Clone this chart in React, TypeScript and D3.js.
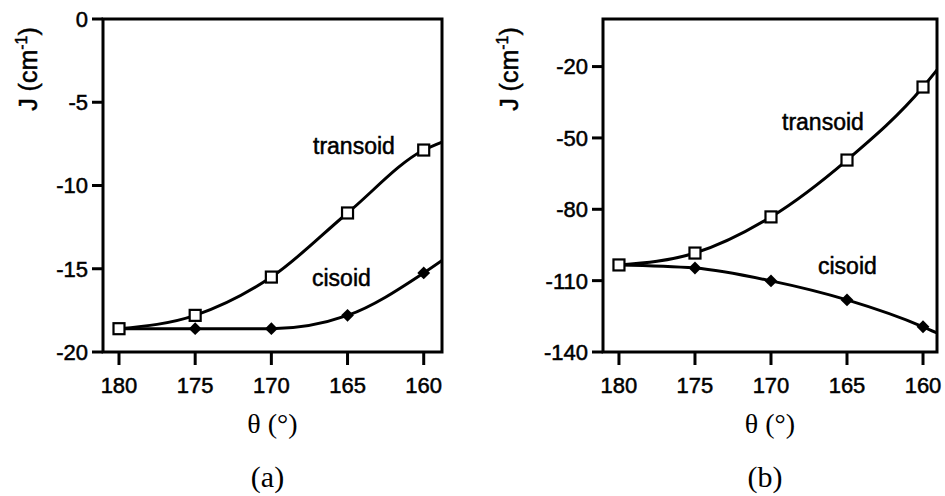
import React from "react";
import * as d3 from "d3";

// angles at which J was computed
const thetas = [180, 175, 170, 165, 160];

// panel (a)
const transoidA = [-18.6, -17.8, -15.5, -11.65, -7.87];
const cisoidA = [-18.6, -18.6, -18.6, -17.8, -15.25];
// fitted curve value where it leaves the frame at the right
const transoidAEnd = -7.39;
const cisoidAEnd = -14.5;
const yTicksA = [0, -5, -10, -15, -20];

// panel (b)
const transoidB = [-103.4, -98.4, -83.2, -59.3, -28.6];
const cisoidB = [-103.4, -104.7, -110.1, -118.1, -129.4];
const transoidBEnd = -21.4;
const cisoidBEnd = -132;
const yTicksB = [-20, -50, -80, -110, -140];

const xTicks = [180, 175, 170, 165, 160];

const SANS = "'Liberation Sans', Arial, Helvetica, sans-serif";
const SERIF = "'Liberation Serif', 'Times New Roman', serif";

type PanelProps = {
  left: number;
  right: number;
  xDomain: [number, number];
  yDomain: [number, number];
  yTicks: number[];
  transoid: number[];
  cisoid: number[];
  transoidEnd: number;
  cisoidEnd: number;
  transoidLabel: [number, number];
  cisoidLabel: [number, number];
  yLabelX: number;
  caption: string;
};

const TOP = 19;
const BOTTOM = 352;
const SW = 3;

// scanned text looks a bit heavy
const inkText = { stroke: "#000", strokeWidth: 0.5 };

function Panel(p: PanelProps) {
  const x = d3.scaleLinear().domain(p.xDomain).range([p.left, p.right]);
  const y = d3.scaleLinear().domain(p.yDomain).range([BOTTOM, TOP]);

  const line = d3
    .line<[number, number]>()
    .x((d) => x(d[0]))
    .y((d) => y(d[1]))
    .curve(d3.curveMonotoneX);

  const tPts: [number, number][] = thetas.map((t, i) => [t, p.transoid[i]]);
  tPts.push([p.xDomain[1], p.transoidEnd]);
  const cPts: [number, number][] = thetas.map((t, i) => [t, p.cisoid[i]]);
  cPts.push([p.xDomain[1], p.cisoidEnd]);

  const cx = (p.left + p.right) / 2;
  const diamond = d3.symbol().type(d3.symbolDiamond2).size(105)();

  return (
    <g>
      <defs>
        <clipPath id={"clip" + p.caption}>
          <rect x={p.left} y={TOP} width={p.right - p.left} height={BOTTOM - TOP} />
        </clipPath>
      </defs>
      <g clipPath={`url(#clip${p.caption})`}>
        <path d={line(cPts) || ""} fill="none" stroke="#000" strokeWidth={SW} />
        <path d={line(tPts) || ""} fill="none" stroke="#000" strokeWidth={SW} />
      </g>
      {/* frame */}
      <rect
        x={p.left}
        y={TOP}
        width={p.right - p.left}
        height={BOTTOM - TOP}
        fill="none"
        stroke="#000"
        strokeWidth={SW}
      />
      {/* y ticks */}
      {p.yTicks.map((t) => (
        <g key={"y" + t}>
          <line x1={p.left - 11} x2={p.left} y1={y(t)} y2={y(t)} stroke="#000" strokeWidth={SW} />
          <text
            x={p.left - 15}
            y={y(t)}
            dy="0.36em"
            textAnchor="end"
            fontFamily={SANS}
            fontSize={22}
            {...inkText}
          >
            {t}
          </text>
        </g>
      ))}
      {/* x ticks */}
      {xTicks.map((t) => (
        <g key={"x" + t}>
          <line x1={x(t)} x2={x(t)} y1={BOTTOM} y2={BOTTOM + 13} stroke="#000" strokeWidth={SW} />
          <text x={x(t)} y={393} textAnchor="middle" fontFamily={SANS} fontSize={22} {...inkText}>
            {t}
          </text>
        </g>
      ))}
      {/* markers */}
      {thetas.map((t, i) =>
        t < 180 ? (
          <path
            key={"c" + t}
            d={diamond || ""}
            transform={`translate(${x(t)},${y(p.cisoid[i])})`}
            fill="#000"
          />
        ) : null
      )}
      {thetas.map((t, i) => (
        <rect
          key={"t" + t}
          x={x(t) - 5.5}
          y={y(p.transoid[i]) - 5.5}
          width={11}
          height={11}
          fill="#fff"
          stroke="#000"
          strokeWidth={2.2}
        />
      ))}
      <text x={p.transoidLabel[0]} y={p.transoidLabel[1]} fontFamily={SANS} fontSize={23} {...inkText}>
        transoid
      </text>
      <text x={p.cisoidLabel[0]} y={p.cisoidLabel[1]} fontFamily={SANS} fontSize={23} {...inkText}>
        cisoid
      </text>
      <text
        transform={`translate(${p.yLabelX},69) rotate(-90)`}
        textAnchor="middle"
        fontFamily={SANS}
        fontSize={25}
        {...inkText}
      >
        J (cm
        <tspan fontSize={16} dy={-10}>
          -1
        </tspan>
        <tspan dy={10}>)</tspan>
      </text>
      <text x={cx} y={433} textAnchor="middle" fontFamily={SERIF} fontSize={28}>
        θ (°)
      </text>
      <text x={cx - 5} y={487} textAnchor="middle" fontFamily={SERIF} fontSize={30}>
        ({p.caption})
      </text>
    </g>
  );
}

export default function App() {
  return (
    <svg
      width={945}
      height={496}
      style={{ position: "absolute", left: 0, top: 0, background: "#fff" }}
    >
      <rect width={945} height={496} fill="#fff" />
      <Panel
        left={103}
        right={442}
        xDomain={[181.05, 158.8]}
        yDomain={[-20, 0]}
        yTicks={yTicksA}
        transoid={transoidA}
        cisoid={cisoidA}
        transoidEnd={transoidAEnd}
        cisoidEnd={cisoidAEnd}
        transoidLabel={[313, 154]}
        cisoidLabel={[312, 286]}
        yLabelX={37}
        caption="a"
      />
      <Panel
        left={603}
        right={937}
        xDomain={[181.05, 159.08]}
        yDomain={[-140, 0]}
        yTicks={yTicksB}
        transoid={transoidB}
        cisoid={cisoidB}
        transoidEnd={transoidBEnd}
        cisoidEnd={cisoidBEnd}
        transoidLabel={[782, 130]}
        cisoidLabel={[818, 274]}
        yLabelX={518}
        caption="b"
      />
    </svg>
  );
}
